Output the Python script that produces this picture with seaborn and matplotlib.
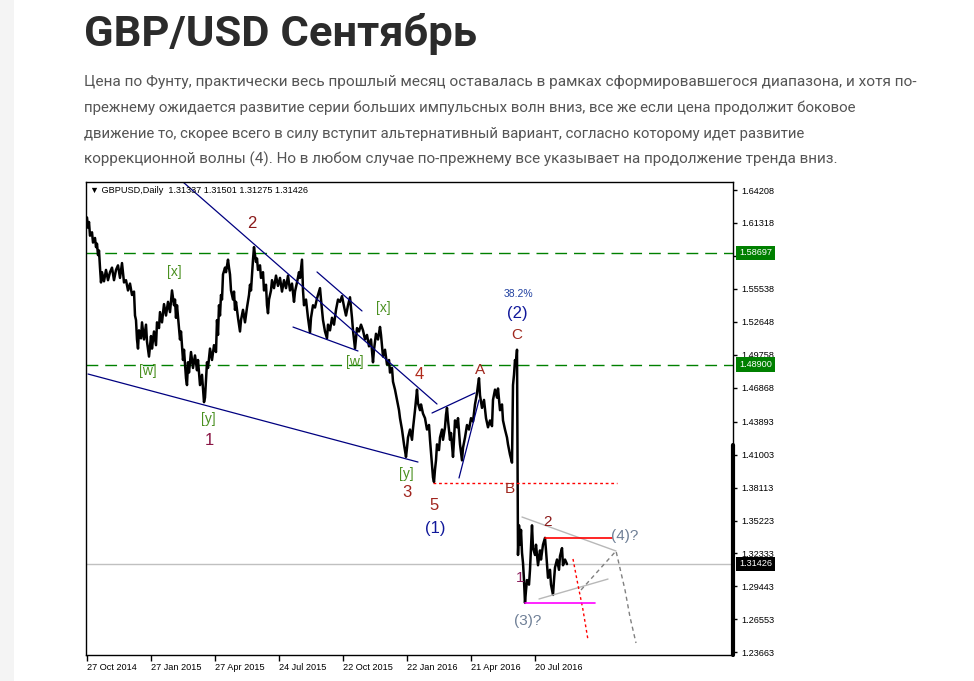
import matplotlib
matplotlib.use("Agg")
import matplotlib.pyplot as plt
import matplotlib.transforms as mtransforms
from matplotlib.patches import Rectangle
import seaborn as sns
import pandas as pd

# ---------------- data ----------------
TITLE = "GBP/USD Сентябрь"
PARAGRAPH = [
    "Цена по Фунту, практически весь прошлый месяц оставалась в рамках сформировавшегося диапазона, и хотя по-",
    "прежнему ожидается развитие серии больших импульсных волн вниз, все же если цена продолжит боковое",
    "движение то, скорее всего в силу вступит альтернативный вариант, согласно которому идет развитие",
    "коррекционной волны (4). Но в любом случае по-прежнему все указывает на продолжение тренда вниз.",
]
HEADER = "\u25bc GBPUSD,Daily  1.31337 1.31501 1.31275 1.31426"

bars = [0, 1, 2, 3, 5, 6, 8, 9, 10, 11, 12, 13, 14, 15, 17, 19, 21, 23, 25, 27,
        29, 31, 33, 35, 37, 39, 41, 43, 45, 47, 48, 49, 50, 51, 52, 54, 55, 57, 59, 60,
        62, 64, 65, 67, 69, 70, 72, 73, 75, 77, 79, 81, 83, 85, 87, 88, 89, 90, 93, 94,
        96, 97, 99, 100, 101, 102, 104, 106, 108, 110, 111, 113, 115, 117, 118, 120, 121, 123, 125, 127,
        129, 130, 131, 132, 133, 134, 135, 136, 138, 139, 141, 142, 143, 144, 146, 147, 148, 149, 151, 153,
        154, 156, 158, 160, 162, 163, 164, 165, 166, 167, 168, 169, 170, 171, 173, 174, 176, 177, 179, 180,
        181, 182, 184, 185, 187, 189, 191, 193, 195, 197, 199, 201, 203, 205, 207, 208, 210, 212, 213, 215,
        216, 217, 219, 221, 223, 224, 226, 228, 230, 232, 233, 234, 236, 238, 240, 241, 243, 245, 247, 249,
        251, 253, 255, 257, 259, 261, 263, 265, 266, 268, 269, 270, 272, 274, 276, 278, 280, 282, 284, 286,
        287, 289, 291, 293, 294, 296, 298, 300, 302, 303, 305, 306, 308, 310, 312, 313, 315, 317, 319, 320,
        321, 323, 325, 326, 328, 330, 331, 333, 334, 336, 338, 340, 342, 343, 345, 346, 347, 348, 349, 350,
        352, 353, 355, 356, 358, 359, 360, 361, 363, 364, 366, 367, 368, 370, 371, 373, 375, 376, 378, 380,
        382, 384, 386, 388, 390, 391, 392, 393, 395, 397, 399, 401, 403, 405, 406, 408, 410, 411, 413, 415,
        416, 418, 420, 421, 423, 425, 426, 427, 428, 429, 430, 431, 432, 433, 434, 435, 436, 437, 438, 439,
        440, 442, 443, 445, 446, 448, 449, 451, 453, 454, 456, 458, 459, 461, 463, 464, 466, 467, 468, 470,
        472, 473, 475, 476, 478, 480]

close = [1.618, 1.609, 1.614, 1.602, 1.605, 1.596, 1.600, 1.592, 1.595, 1.585, 1.589, 1.574, 1.561, 1.570, 1.562, 1.572, 1.563, 1.570, 1.574, 1.563,
         1.572, 1.576, 1.565, 1.578, 1.561, 1.563, 1.554, 1.560, 1.550, 1.553, 1.532, 1.528, 1.511, 1.503, 1.519, 1.512, 1.526, 1.511, 1.524, 1.509,
         1.496, 1.514, 1.503, 1.518, 1.506, 1.526, 1.521, 1.535, 1.526, 1.542, 1.532, 1.544, 1.535, 1.554, 1.541, 1.546, 1.530, 1.541, 1.511, 1.518,
         1.493, 1.502, 1.477, 1.471, 1.491, 1.482, 1.500, 1.486, 1.497, 1.484, 1.493, 1.471, 1.480, 1.456, 1.460, 1.491, 1.486, 1.503, 1.493, 1.506,
         1.500, 1.528, 1.515, 1.541, 1.532, 1.550, 1.546, 1.568, 1.574, 1.570, 1.581, 1.574, 1.568, 1.554, 1.546, 1.553, 1.537, 1.544, 1.530, 1.518,
         1.528, 1.537, 1.526, 1.539, 1.550, 1.559, 1.554, 1.568, 1.581, 1.592, 1.585, 1.579, 1.582, 1.572, 1.576, 1.565, 1.570, 1.554, 1.559, 1.541,
         1.534, 1.546, 1.554, 1.563, 1.556, 1.567, 1.558, 1.565, 1.553, 1.563, 1.556, 1.567, 1.554, 1.560, 1.544, 1.553, 1.561, 1.570, 1.565, 1.581,
         1.554, 1.541, 1.546, 1.530, 1.517, 1.530, 1.541, 1.539, 1.547, 1.553, 1.556, 1.546, 1.528, 1.518, 1.512, 1.524, 1.519, 1.530, 1.524, 1.537,
         1.546, 1.544, 1.549, 1.540, 1.532, 1.541, 1.548, 1.530, 1.519, 1.503, 1.512, 1.521, 1.518, 1.524, 1.519, 1.511, 1.515, 1.505, 1.511, 1.491,
         1.502, 1.516, 1.511, 1.522, 1.515, 1.496, 1.502, 1.489, 1.493, 1.482, 1.486, 1.474, 1.467, 1.458, 1.449, 1.442, 1.432, 1.419, 1.408, 1.416,
         1.425, 1.432, 1.423, 1.433, 1.449, 1.467, 1.455, 1.449, 1.454, 1.446, 1.442, 1.432, 1.436, 1.423, 1.401, 1.390, 1.386, 1.397, 1.405, 1.419,
         1.414, 1.425, 1.432, 1.423, 1.434, 1.445, 1.451, 1.440, 1.423, 1.429, 1.408, 1.423, 1.440, 1.434, 1.442, 1.419, 1.405, 1.416, 1.425, 1.436,
         1.432, 1.442, 1.439, 1.454, 1.464, 1.471, 1.477, 1.462, 1.451, 1.458, 1.442, 1.434, 1.440, 1.435, 1.458, 1.467, 1.460, 1.468, 1.449, 1.454,
         1.440, 1.432, 1.425, 1.419, 1.410, 1.403, 1.471, 1.480, 1.493, 1.489, 1.502, 1.322, 1.348, 1.331, 1.344, 1.324, 1.315, 1.300, 1.280, 1.291,
         1.300, 1.296, 1.309, 1.348, 1.328, 1.322, 1.331, 1.313, 1.326, 1.318, 1.331, 1.337, 1.326, 1.302, 1.309, 1.296, 1.287, 1.300, 1.311, 1.318,
         1.309, 1.321, 1.328, 1.313, 1.318, 1.314]

y_ticks = [1.64208, 1.61318, 1.58428, 1.55538, 1.52648, 1.49758, 1.46868, 1.43893,
           1.41003, 1.38113, 1.35223, 1.32333, 1.29443, 1.26553, 1.23663]
# the 1.58428 label is covered by the 1.58697 level box in the reference
y_labels = ["1.64208", "1.61318", "", "1.55538", "1.52648", "1.49758", "1.46868", "1.43893",
            "1.41003", "1.38113", "1.35223", "1.32333", "1.29443", "1.26553", "1.23663"]
x_ticks = [0, 64, 128, 192, 256, 320, 384, 448]
x_labels = ["27 Oct 2014", "27 Jan 2015", "27 Apr 2015", "24 Jul 2015",
            "22 Oct 2015", "22 Jan 2016", "21 Apr 2016", "20 Jul 2016"]

green_levels = [1.58697, 1.48900]
last_price = 1.31426

# trend lines (bar, price) pairs
navy_lines = [
    [(96, 1.6491), (350, 1.4544)],
    [(230, 1.5702), (275, 1.5360)],
    [(206, 1.5219), (271, 1.5009)],
    [(1, 1.4807), (331, 1.4035)],
    [(345, 1.4465), (388, 1.4641)],
    [(372, 1.3895), (392, 1.4579)],
]
grey_lines = [
    [(435, 1.3553), (529, 1.3255)],
    [(452, 1.2834), (521, 1.3009)],
]
grey_dash_bars = [494, 529, 538, 543, 549]
grey_dash_prices = [1.2913, 1.3255, 1.2913, 1.2676, 1.2448]
red_dot_bars = [486, 490, 496, 501]
red_dot_prices = [1.3185, 1.3000, 1.2738, 1.2475]
red_dot_level = (346, 530, 1.3851)
red_level = (458, 525, 1.3370)
magenta_level = (438, 508, 1.2800)

# wave labels: text, bar, price, colour, size
labels = [
    ("2", 165, 1.6131, "#8b1a1a", 12),
    ("[x]", 87, 1.5702, "#4a9020", 10),
    ("[w]", 61, 1.4833, "#4a9020", 10),
    ("[y]", 121, 1.4412, "#4a9020", 10),
    ("1", 122, 1.4220, "#8a1545", 12),
    ("[x]", 296, 1.5386, "#4a9020", 10),
    ("[w]", 268, 1.4912, "#4a9020", 10),
    ("4", 332, 1.4807, "#b02a1a", 12),
    ("[y]", 319, 1.3930, "#4a9020", 10),
    ("3", 320, 1.3772, "#a0241e", 12),
    ("5", 347, 1.3658, "#a0241e", 12),
    ("(1)", 348, 1.3448, "#10189a", 12),
    ("A", 393, 1.4842, "#a0281e", 11),
    ("38.2%", 431, 1.5509, "#2040a0", 7.5),
    ("(2)", 430, 1.5342, "#10189a", 12),
    ("C", 430, 1.5149, "#a0281e", 11),
    ("B", 423, 1.3799, "#a0281e", 11),
    ("2", 461, 1.3509, "#8b1a1a", 11),
    ("1", 433, 1.3018, "#8b1a5a", 11),
    ("(4)?", 538, 1.3387, "#6e7f96", 11),
    ("(3)?", 441, 1.2641, "#6e7f96", 11),
]

# ---------------- figure ----------------
sns.set_theme(style="white")
plt.rcParams["font.family"] = ["Liberation Sans", "DejaVu Sans"]

W, H = 974, 681
fig = plt.figure(figsize=(W / 100, H / 100), dpi=100)
fig.patch.set_facecolor("white")
fig.add_artist(Rectangle((0, 0), 14 / W, 1, transform=fig.transFigure,
                         facecolor="#f4f4f4", edgecolor="none"))

title = fig.text(84 / W, 1 - 46 / H, TITLE, fontsize=30, fontweight="bold",
                 family=["Roboto", "DejaVu Sans"], color="#2b2b2b", va="baseline")
par_texts = []
for i, line in enumerate(PARAGRAPH):
    t = fig.text(84 / W, 1 - (86 + 26 * i) / H, line, fontsize=11.5,
                 family=["Roboto", "DejaVu Sans"], color="#555555", va="baseline")
    par_texts.append(t)

ax = fig.add_axes([86 / W, 1 - 655 / H, 647 / W, 473 / H])
df = pd.DataFrame({"bar": bars, "close": close})
sns.lineplot(data=df, x="bar", y="close", ax=ax, color="black", lw=1.8,
             estimator=None, sort=False)

for lv in green_levels:
    ax.axhline(lv, color="#008000", lw=1, dashes=(8.5, 5), zorder=1)
ax.axhline(last_price, color="#c0c0c0", lw=1, zorder=1)

for seg in navy_lines:
    ax.plot([seg[0][0], seg[1][0]], [seg[0][1], seg[1][1]], color="#000080", lw=0.9)
for seg in grey_lines:
    ax.plot([seg[0][0], seg[1][0]], [seg[0][1], seg[1][1]], color="#b8b8b8", lw=1)
ax.plot(grey_dash_bars, grey_dash_prices, color="#808080", lw=1, dashes=(3, 2.5))
ax.plot(red_dot_bars, red_dot_prices, color="#ff0000", lw=1, dashes=(2, 2))
ax.plot([red_dot_level[0], red_dot_level[1]], [red_dot_level[2]] * 2,
        color="#ff0000", lw=1, dashes=(2, 2))
ax.plot([red_level[0], red_level[1]], [red_level[2]] * 2, color="#ff0000", lw=1.2)
ax.plot([magenta_level[0], magenta_level[1]], [magenta_level[2]] * 2,
        color="#ff00ff", lw=1.2)

for txt, b, p, c, s in labels:
    ax.text(b, p, txt, color=c, fontsize=s, ha="center", va="center")

ax.set_xlim(-1, 646)
ax.set_ylim(1.23428, 1.64910)
ax.set_xlabel("")
ax.set_ylabel("")
ax.grid(False)
for sp in ax.spines.values():
    sp.set_color("black")
    sp.set_linewidth(1)
    sp.set_visible(True)

ax.yaxis.tick_right()
ax.set_yticks(y_ticks)
ax.set_yticklabels(y_labels)
ax.set_xticks(x_ticks)
ax.set_xticklabels(x_labels)
ax.tick_params(axis="y", which="both", right=True, left=False, labelright=True,
               labelleft=False, direction="out", length=3, width=1, pad=3,
               labelsize=6.6, colors="black")
ax.tick_params(axis="x", bottom=True, direction="out", length=4, width=1, pad=2,
               labelsize=6.6, colors="black")
for lbl in ax.get_xticklabels():
    lbl.set_ha("left")

ax.text(4 / 647, 0.983, HEADER, transform=ax.transAxes, fontsize=6.6,
        va="center", ha="left", color="black")

trans = mtransforms.blended_transform_factory(ax.transAxes, ax.transData)
for lv in green_levels:
    ax.text(1 + 6 / 647, lv, f"{lv:.5f}", transform=trans, va="center", ha="left",
            color="white", fontsize=6.6, clip_on=False, zorder=6,
            bbox=dict(boxstyle="square,pad=0.3", fc="#008000", ec="none"))
ax.text(1 + 6 / 647, last_price, f"{last_price:.5f}", transform=trans, va="center",
        ha="left", color="white", fontsize=6.6, clip_on=False, zorder=6,
        bbox=dict(boxstyle="square,pad=0.3", fc="black", ec="none"))
ax.axvline(646, ymin=0, ymax=0.444, color="black", lw=3, clip_on=False)

# fit web text widths to the reference
targets = [834, 778, 728, 762]
fig.canvas.draw()
r = fig.canvas.get_renderer()
w = title.get_window_extent(r).width
title.set_fontsize(title.get_fontsize() * 392 / w)
for t, tw in zip(par_texts, targets):
    w = t.get_window_extent(r).width
    t.set_fontsize(t.get_fontsize() * tw / w)

fig.savefig("out.png", dpi=100, facecolor="white")
